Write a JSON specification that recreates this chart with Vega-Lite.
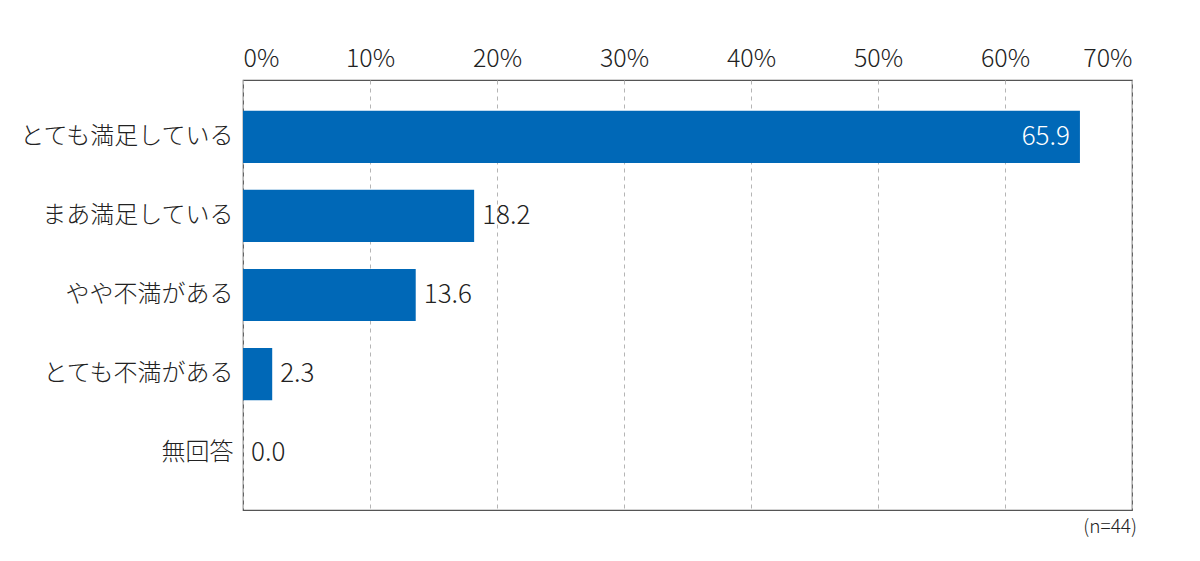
{
  "$schema": "https://vega.github.io/schema/vega-lite/v6.json",
  "autosize": {"type": "none"},
  "padding": {"left": 243, "top": 80, "right": 68, "bottom": 51},
  "width": 889,
  "height": 430,
  "background": "white",
  "config": {
    "font": "Noto Sans CJK JP",
    "view": {"stroke": "#555555", "strokeWidth": 1.2}
  },
  "title": {
    "text": "(n=44)",
    "orient": "bottom",
    "anchor": "end",
    "fontSize": 19,
    "fontWeight": 300,
    "color": "#222222",
    "offset": 8,
    "dx": 5
  },
  "data": {
    "values": [
      {"item": "とても満足している", "v": 65.9},
      {"item": "まあ満足している", "v": 18.2},
      {"item": "やや不満がある", "v": 13.6},
      {"item": "とても不満がある", "v": 2.3},
      {"item": "無回答", "v": 0.0}
    ]
  },
  "encoding": {
    "y": {
      "field": "item",
      "type": "nominal",
      "sort": null,
      "title": null,
      "scale": {"paddingInner": 0.34, "paddingOuter": 0.39},
      "axis": {
        "domain": false,
        "ticks": false,
        "labelFontSize": 24,
        "labelFontWeight": 300,
        "labelColor": "#222222",
        "labelPadding": 10,
        "labelLimit": 300
      }
    },
    "x": {
      "field": "v",
      "type": "quantitative",
      "title": null,
      "scale": {"domain": [0, 70], "nice": false},
      "axis": {
        "orient": "top",
        "values": [0, 10, 20, 30, 40, 50, 60, 70],
        "labelExpr": "datum.value + '%'",
        "domain": false,
        "ticks": false,
        "labelFontSize": 25,
        "labelFontWeight": 300,
        "labelColor": "#222222",
        "labelPadding": 9,
        "grid": true,
        "gridColor": "#b5b5b5",
        "gridDash": [4, 4],
        "gridWidth": 1
      }
    }
  },
  "layer": [
    {
      "mark": {"type": "bar", "color": "#0068B7"}
    },
    {
      "transform": [{"filter": "datum.v >= 50"}],
      "mark": {"type": "text", "align": "right", "dx": -10, "fontSize": 26, "fontWeight": 300, "color": "white"},
      "encoding": {"text": {"field": "v", "type": "quantitative", "format": ".1f"}}
    },
    {
      "transform": [{"filter": "datum.v < 50"}],
      "mark": {"type": "text", "align": "left", "dx": 8, "fontSize": 26, "fontWeight": 300, "color": "#222222"},
      "encoding": {"text": {"field": "v", "type": "quantitative", "format": ".1f"}}
    }
  ]
}
